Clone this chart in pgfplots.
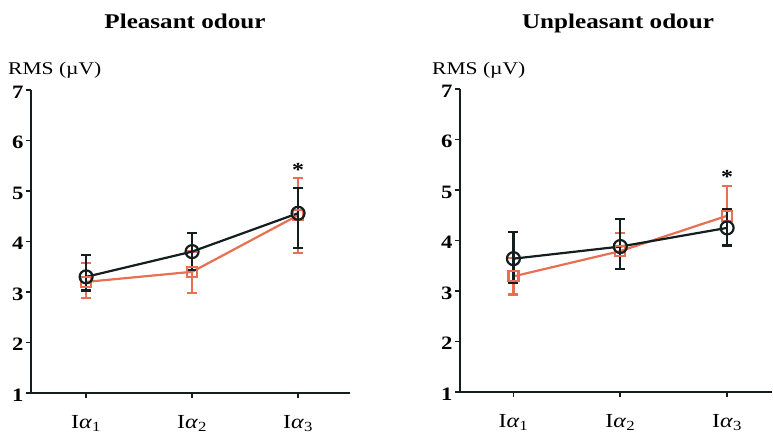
\documentclass[border=0pt]{standalone}
\usepackage{pgfplots}
\pgfplotsset{compat=1.18}
\usepackage{fontspec}
\setmainfont{Liberation Serif}[FakeStretch=1.2]
\definecolor{myorange}{RGB}{232,112,82}
\definecolor{myblack}{RGB}{20,30,30}
\pgfplotsset{
  rmsaxis/.style={
    scale only axis,
    height=303bp,
    axis lines=left,
    axis line style={line width=2.4bp, myblack, -},
    ymin=1, ymax=7,
    ytick={1,2,3,4,5,6,7},
    xtick={0,1,2},
    xticklabels={I\textit{α}\textsubscript{1},I\textit{α}\textsubscript{2},I\textit{α}\textsubscript{3}},
    tick align=outside,
    major tick length=5bp,
    tick style={line width=1.6bp, myblack},
    /pgf/number format/assume math mode=true,
    yticklabel style={font=\bfseries\fontsize{19}{19}\selectfont, xshift=1bp, yshift=-2bp},
    xticklabel style={font=\fontsize{20}{20}\selectfont, yshift=-14bp},
    clip=false,
  },
  blk/.style={myblack, line width=2.2bp, mark=o, mark size=6.5bp,
    mark options={fill=white, line width=2.2bp, solid},
    error bars/.cd, y dir=both, y explicit,
    error bar style={line width=2.2bp, myblack},
    error mark options={rotate=90, mark size=5bp, line width=2.4bp, myblack}},
  org/.style={myorange, line width=2.2bp, mark=square, mark size=5bp,
    mark options={fill=white, line width=2.2bp, solid},
    error bars/.cd, y dir=both, y explicit,
    error bar style={line width=2.2bp, myorange},
    error mark options={rotate=90, mark size=5bp, line width=2.4bp, myorange}},
}
\begin{document}
\begin{tikzpicture}[x=1bp,y=1bp]
\useasboundingbox (0,0) rectangle (773bp,439bp);
% left panel
\begin{axis}[rmsaxis, at={(31bp,46bp)}, anchor=south west, width=319bp, xmin=-0.52, xmax=2.49]
\addplot+[org] coordinates {
 (0,3.20) += (0,0.38) -= (0,0.32)
 (1,3.40) += (0,0.40) -= (0,0.42)
 (2,4.52) += (0,0.74) -= (0,0.75)
};
\addplot+[blk] coordinates {
 (0,3.30) += (0,0.43) -= (0,0.27)
 (1,3.80) += (0,0.37) -= (0,0.37)
 (2,4.56) += (0,0.50) -= (0,0.69)
};
\node[font=\bfseries\fontsize{20}{20}\selectfont] at (axis cs:2,5.42) {*};
\end{axis}
% right panel
\begin{axis}[rmsaxis, at={(460bp,47bp)}, anchor=south west, width=312bp, xmin=-0.5, xmax=2.42]
\addplot+[org] coordinates {
 (0,3.29) += (0,0.36) -= (0,0.36)
 (1,3.79) += (0,0.36) -= (0,0.36)
 (2,4.49) += (0,0.59) -= (0,0.59)
};
\addplot+[blk] coordinates {
 (0,3.64) += (0,0.53) -= (0,0.47)
 (1,3.88) += (0,0.54) -= (0,0.45)
 (2,4.25) += (0,0.37) -= (0,0.35)
};
\node[font=\bfseries\fontsize{20}{20}\selectfont] at (axis cs:2,5.26) {*};
\end{axis}
% labels
\node[anchor=base west, font=\fontsize{18}{18}\selectfont, inner sep=0] at (8bp,364bp) {RMS (µV)};
\node[anchor=base west, font=\fontsize{18}{18}\selectfont, inner sep=0] at (432bp,364bp) {RMS (µV)};
\node[anchor=base, font=\bfseries\fontsize{21}{21}\selectfont, inner sep=0] at (185bp,410bp) {Pleasant odour};
\node[anchor=base, font=\bfseries\fontsize{21}{21}\selectfont, inner sep=0] at (618bp,410bp) {Unpleasant odour};
\end{tikzpicture}
\end{document}
